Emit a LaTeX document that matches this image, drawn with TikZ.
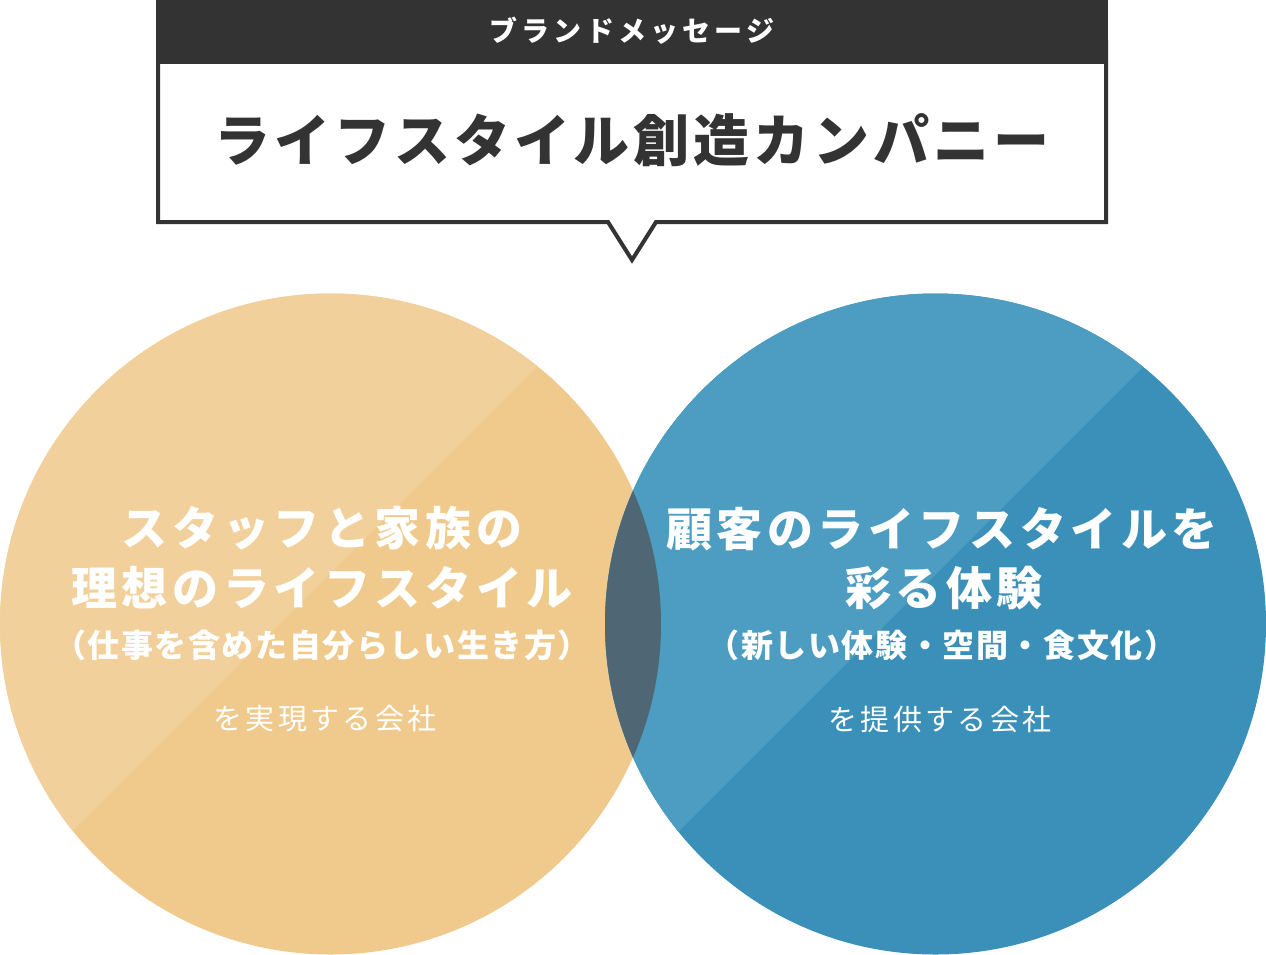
\documentclass[tikz,border=0pt]{standalone}
\usepackage{fontspec}
\newfontfamily\jp{Noto Sans CJK JP}
\definecolor{orL}{HTML}{F2D09C}
\definecolor{orD}{HTML}{F0CA8C}
\definecolor{blL}{HTML}{4C9DC1}
\definecolor{blD}{HTML}{3A90B8}
\definecolor{ovl}{HTML}{4F6774}
\definecolor{dark}{HTML}{333333}
\tikzset{
  txt/.style={inner sep=0pt, anchor=base, text=white},
  big/.style={txt, font=\jp\bfseries\fontsize{46}{50}\selectfont\addfontfeatures{LetterSpace=10}},
  mid/.style={txt, font=\jp\bfseries\fontsize{32}{35}\selectfont\addfontfeatures{LetterSpace=5}},
  sml/.style={txt, font=\jp\fontsize{29}{32}\selectfont\addfontfeatures{LetterSpace=12}},
}
\begin{document}
\begin{tikzpicture}[x=1pt,y=-1pt]
\useasboundingbox (0,0) rectangle (1266,954);
% left circle
\fill[orD] (330.5,624) circle[radius=330.5pt];
\begin{scope}
\clip (330.5,624) circle[radius=330.5pt];
\fill[orL] (0,0) -- (903.5,0) -- (0,903.5) -- cycle;
\end{scope}
% right circle
\fill[blD] (935.5,624) circle[radius=330.5pt];
\begin{scope}
\clip (935.5,624) circle[radius=330.5pt];
\fill[blL] (600,0) -- (1510,0) -- (600,910) -- cycle;
\end{scope}
% overlap
\begin{scope}
\clip (330.5,624) circle[radius=330.5pt];
\fill[ovl] (935.5,624) circle[radius=330.5pt];
\end{scope}
% speech box
\filldraw[fill=white, draw=dark, line width=4pt, miter limit=10]
  (158,40) -- (158,222) -- (608,222) -- (632,260) -- (656,222) -- (1106,222) -- (1106,40);
\fill[dark] (156,0) rectangle (1108,64);
\node[inner sep=0pt, anchor=base, text=white,
  font=\jp\bfseries\fontsize{28}{30}\selectfont\addfontfeatures{LetterSpace=15}] (hdr) at (632,41.5) {ブランドメッセージ};
\node[inner sep=0pt, anchor=base, text=dark,
  font=\jp\bfseries\fontsize{56}{60}\selectfont\addfontfeatures{LetterSpace=7}] (ttl) at (632,161) {ライフスタイル創造カンパニー};
% left texts
\node[big] (l1) at (322,545) {スタッフと家族の};
\node[big] (l2) at (322,605) {理想のライフスタイル};
\node[mid] (l3) at (322,657) {（仕事を含めた自分らしい生き方）};
\node[sml] (l4) at (325,729) {を実現する会社};
% right texts
\node[big] (r1) at (942,546) {顧客のライフスタイルを};
\node[big] (r2) at (944,605) {彩る体験};
\node[mid] (r3) at (942,657) {（新しい体験・空間・食文化）};
\node[sml] (r4) at (940,730) {を提供する会社};
\end{tikzpicture}
\end{document}
